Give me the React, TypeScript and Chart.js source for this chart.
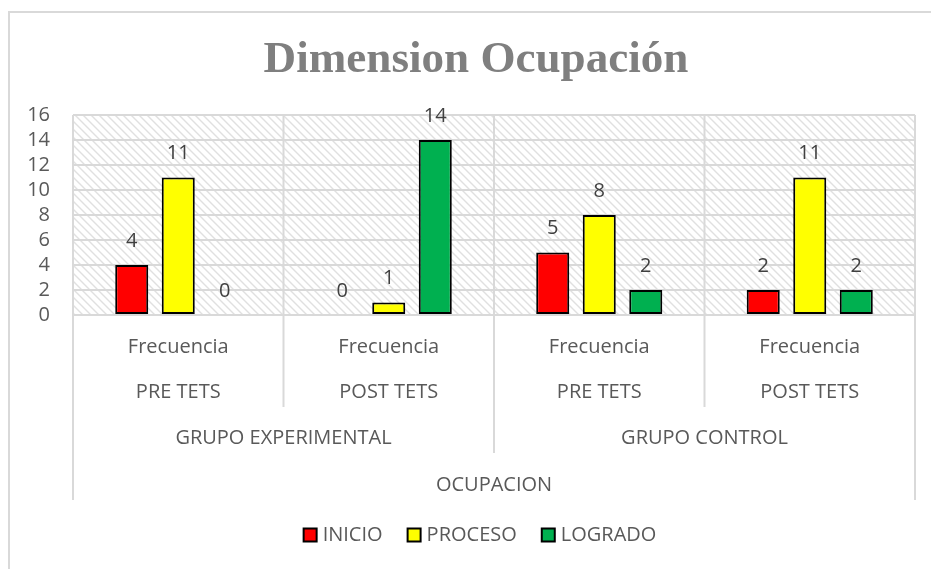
import React, { useEffect, useRef } from "react";
import { Chart, registerables } from "chart.js";

Chart.register(...registerables);

const TITLE = "Dimension Ocupación";
const categories = ["Frecuencia", "Frecuencia", "Frecuencia", "Frecuencia"];
const testLabels = ["PRE TETS", "POST TETS", "PRE TETS", "POST TETS"];
const groupLabels = ["GRUPO EXPERIMENTAL", "GRUPO CONTROL"];
const topLabel = "OCUPACION";
const seriesNames = ["INICIO", "PROCESO", "LOGRADO"];
const inicio = [4, 0, 5, 2];
const proceso = [11, 1, 8, 11];
const logrado = [0, 14, 2, 2];
const seriesColors = ["#FF0000", "#FFFF00", "#00B050"];
const yTicks = [0, 2, 4, 6, 8, 10, 12, 14, 16];

const TEXT = "#595959";
const GRID = "#D9D9D9";
const FONT = "'Open Sans', 'Noto Sans', sans-serif";
const FS = 20;

function makeHatch(ctx: CanvasRenderingContext2D) {
  const c = document.createElement("canvas");
  c.width = 8;
  c.height = 8;
  const p = c.getContext("2d")!;
  p.fillStyle = "#FFFFFF";
  p.fillRect(0, 0, 8, 8);
  p.strokeStyle = "#E0E0E0";
  p.lineWidth = 1.4;
  p.beginPath();
  p.moveTo(-2, -2);
  p.lineTo(10, 10);
  p.moveTo(-2, 6);
  p.lineTo(2, 10);
  p.moveTo(6, -2);
  p.lineTo(10, 2);
  p.stroke();
  return ctx.createPattern(c, "repeat");
}

const decor = {
  id: "decor",
  beforeDraw(chart: any) {
    const { ctx, chartArea: a } = chart;
    ctx.save();
    ctx.fillStyle = "#FFFFFF";
    ctx.fillRect(0, 0, chart.width, chart.height);
    ctx.strokeStyle = GRID;
    ctx.lineWidth = 2;
    ctx.strokeRect(9, 12, chart.width + 20, chart.height + 20);
    const pat = makeHatch(ctx);
    if (pat) {
      ctx.fillStyle = pat;
      ctx.fillRect(a.left, a.top, a.right - a.left, a.bottom - a.top);
    }
    ctx.restore();
  },
  afterDatasetsDraw(chart: any) {
    const { ctx } = chart;
    ctx.save();
    ctx.fillStyle = "#404040";
    ctx.font = `${FS}px ${FONT}`;
    ctx.textAlign = "center";
    ctx.textBaseline = "middle";
    chart.data.datasets.forEach((ds: any, i: number) => {
      const meta = chart.getDatasetMeta(i);
      meta.data.forEach((bar: any, j: number) => {
        ctx.fillText(String(ds.data[j]), bar.x, bar.y - 24);
      });
    });
    ctx.restore();
  },
  afterDraw(chart: any) {
    const { ctx, chartArea: a } = chart;
    const xs = chart.scales.x;
    const n = categories.length;
    const w = (a.right - a.left) / n;
    ctx.save();
    // vertical separators
    ctx.strokeStyle = GRID;
    ctx.lineWidth = 2;
    const line = (x: number, y0: number, y1: number) => {
      ctx.beginPath();
      ctx.moveTo(x, y0);
      ctx.lineTo(x, y1);
      ctx.stroke();
    };
    line(a.left, a.top, a.bottom + 185);
    line(a.right, a.top, a.bottom + 185);
    line(a.left + w * 2, a.top, a.bottom + 138);
    line(a.left + w, a.top, a.bottom + 92);
    line(a.left + w * 3, a.top, a.bottom + 92);
    // labels
    ctx.fillStyle = TEXT;
    ctx.font = `${FS}px ${FONT}`;
    ctx.textAlign = "center";
    ctx.textBaseline = "middle";
    categories.forEach((c, i) => {
      const cx = xs.getPixelForValue(i);
      ctx.fillText(c, cx, a.bottom + 32);
      ctx.fillText(testLabels[i], cx, a.bottom + 77);
    });
    groupLabels.forEach((g, i) => {
      ctx.fillText(g, a.left + w * (2 * i + 1), a.bottom + 123);
    });
    ctx.fillText(topLabel, (a.left + a.right) / 2, a.bottom + 170);
    // legend
    const ly = 535;
    let total = 0;
    const gap = 25;
    const box = 13;
    const widths = seriesNames.map((s) => ctx.measureText(s).width);
    widths.forEach((tw) => (total += box + 6 + tw));
    total += gap * (seriesNames.length - 1);
    let x = 480 - total / 2;
    ctx.textAlign = "left";
    seriesNames.forEach((s, i) => {
      ctx.fillStyle = seriesColors[i];
      ctx.fillRect(x, ly - box / 2, box, box);
      ctx.strokeStyle = "#000000";
      ctx.lineWidth = 2;
      ctx.strokeRect(x, ly - box / 2, box, box);
      ctx.fillStyle = TEXT;
      ctx.fillText(s, x + box + 6, ly);
      x += box + 6 + widths[i] + gap;
    });
    // title
    ctx.fillStyle = "#7F7F7F";
    let size = 40;
    ctx.font = `bold ${size}px 'Liberation Serif', serif`;
    const tw = ctx.measureText(TITLE).width;
    size = size * (425 / tw);
    ctx.font = `bold ${size}px 'Liberation Serif', serif`;
    ctx.textAlign = "center";
    ctx.textBaseline = "alphabetic";
    ctx.fillText(TITLE, 476, 72);
    ctx.restore();
  },
};

export default function App() {
  const ref = useRef<HTMLCanvasElement | null>(null);
  useEffect(() => {
    if (!ref.current) return;
    const datasets = [inicio, proceso, logrado].map((d, i) => ({
      label: seriesNames[i],
      data: d,
      backgroundColor: seriesColors[i],
      borderColor: "#000000",
      borderWidth: (c: any) => (c.raw === 0 ? 0 : 2),
      borderSkipped: false,
      categoryPercentage: 0.663,
      barPercentage: 0.71,
    }));
    const chart = new Chart(ref.current, {
      type: "bar",
      data: { labels: categories, datasets },
      options: {
        responsive: false,
        animation: false,
        layout: { padding: { top: 115, bottom: 254, left: 0, right: 16 } },
        plugins: { legend: { display: false }, title: { display: false }, tooltip: { enabled: false } },
        scales: {
          x: { display: false },
          y: {
            min: 0,
            max: 16,
            afterFit: (s: any) => {
              s.width = 73;
            },
            afterBuildTicks: (s: any) => {
              s.ticks = yTicks.map((v) => ({ value: v }));
            },
            border: { display: false },
            grid: { color: GRID, lineWidth: 2, drawTicks: false },
            ticks: { color: TEXT, font: { family: FONT, size: FS }, padding: 23, autoSkip: false },
          },
        },
      },
      plugins: [decor],
    });
    return () => chart.destroy();
  }, []);
  return (
    <div style={{ position: "fixed", left: 0, top: 0, width: 931, height: 569 }}>
      <canvas ref={ref} width={931} height={569} style={{ display: "block" }} />
    </div>
  );
}
